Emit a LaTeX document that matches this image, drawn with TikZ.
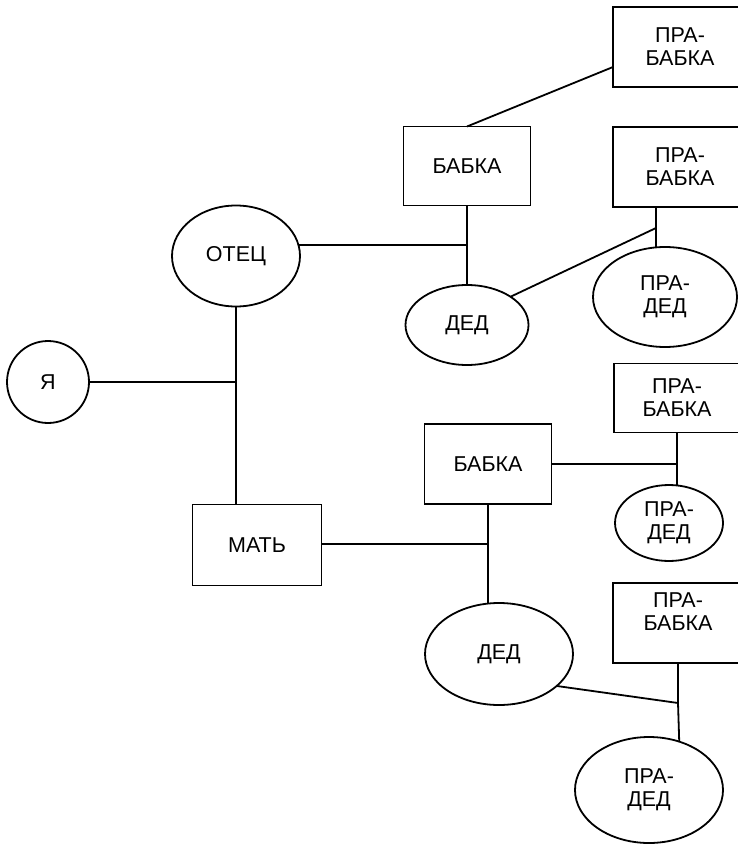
\documentclass[tikz,border=0pt]{standalone}
\usepackage{fontspec}
\setmainfont{Liberation Sans}
\usepackage{tikz}
\usetikzlibrary{calc}
\usetikzlibrary{shapes.geometric}

\begin{document}
\begin{tikzpicture}[x=1pt, y=-1pt, line width=1.8pt,
        kin/.style={draw, inner sep=0pt, outer sep=0pt, align=center,
                    font=\fontsize{21.5}{23}\selectfont},
        female/.style 2 args={kin, rectangle, minimum width=#1, minimum height=#2},
        male/.style 2 args={kin, ellipse, minimum width=#1, minimum height=#2}]
            \useasboundingbox (0,0) rectangle (738,845);
            \node[male={82}{82}]     (ya)        at ( 48, 382) {Я};
            \node[male={128}{101}]   (otec)      at (236, 256) {ОТЕЦ};
            \node[female={129}{81}]  (mat)       at (257, 545) {МАТЬ};
            \node[female={127}{79}]  (babkaF)    at (467, 166) {БАБКА};
            \node[male={123}{80}]    (dedF)      at (467, 325) {ДЕД};
            \node[female={134}{80}]  (prababkaA) at (680,  47) {ПРА-\\БАБКА};
            \node[female={134}{80}]  (prababkaB) at (680, 167) {ПРА-\\БАБКА};
            \node[male={144}{100}]   (pradedA)   at (665, 297) {ПРА-\\ДЕД};
            \node[female={126}{69}]  (prababkaC) at (677, 398) {ПРА-\\БАБКА};
            \node[female={127}{80}]  (babkaM)    at (488, 464) {БАБКА};
            \node[male={108}{76}]    (pradedB)   at (669, 523) {ПРА-\\ДЕД};
            \node[female={130}{80}]  (prababkaD) at (678, 623) {ПРА-\\БАБКА\\\mbox{}};
            \node[male={148}{102}]   (dedM)      at (499, 654) {ДЕД};
            \node[male={148}{106}]   (pradedC)   at (649, 790) {ПРА-\\ДЕД};

            \coordinate (jYa) at (236, 382);
            \coordinate (jF)  at (467, 245);
            \coordinate (jA)  at (656, 228);
            \coordinate (jC)  at (677, 464);
            \coordinate (jM)  at (488, 544);
            \coordinate (jD)  at (678, 703);

            \draw (ya)              -- (jYa);
            \draw (otec.south)      -- (otec.south |- mat.north);
            \draw (otec.10)         -- (jF);
            \draw (babkaF.south)    -- (dedF.north);
            \draw (babkaF.north)    -- ($(prababkaA.west)!0.5!(prababkaA.south west)$);
            \draw (jA |- prababkaB.south) -- (jA |- pradedA.north);
            \draw (dedF.33)         -- (jA);
            \draw (babkaM.east)     -- (jC);
            \draw (prababkaC.south) -- (jC |- pradedB.north);
            \draw (mat.east |- jM)  -- (jM);
            \draw (babkaM.south)    -- (babkaM.south |- dedM.north);
            \draw (dedM.-29)        -- (jD);
            \draw (prababkaD.south) -- (jD) -- (pradedC.58);
\end{tikzpicture}
\end{document}
